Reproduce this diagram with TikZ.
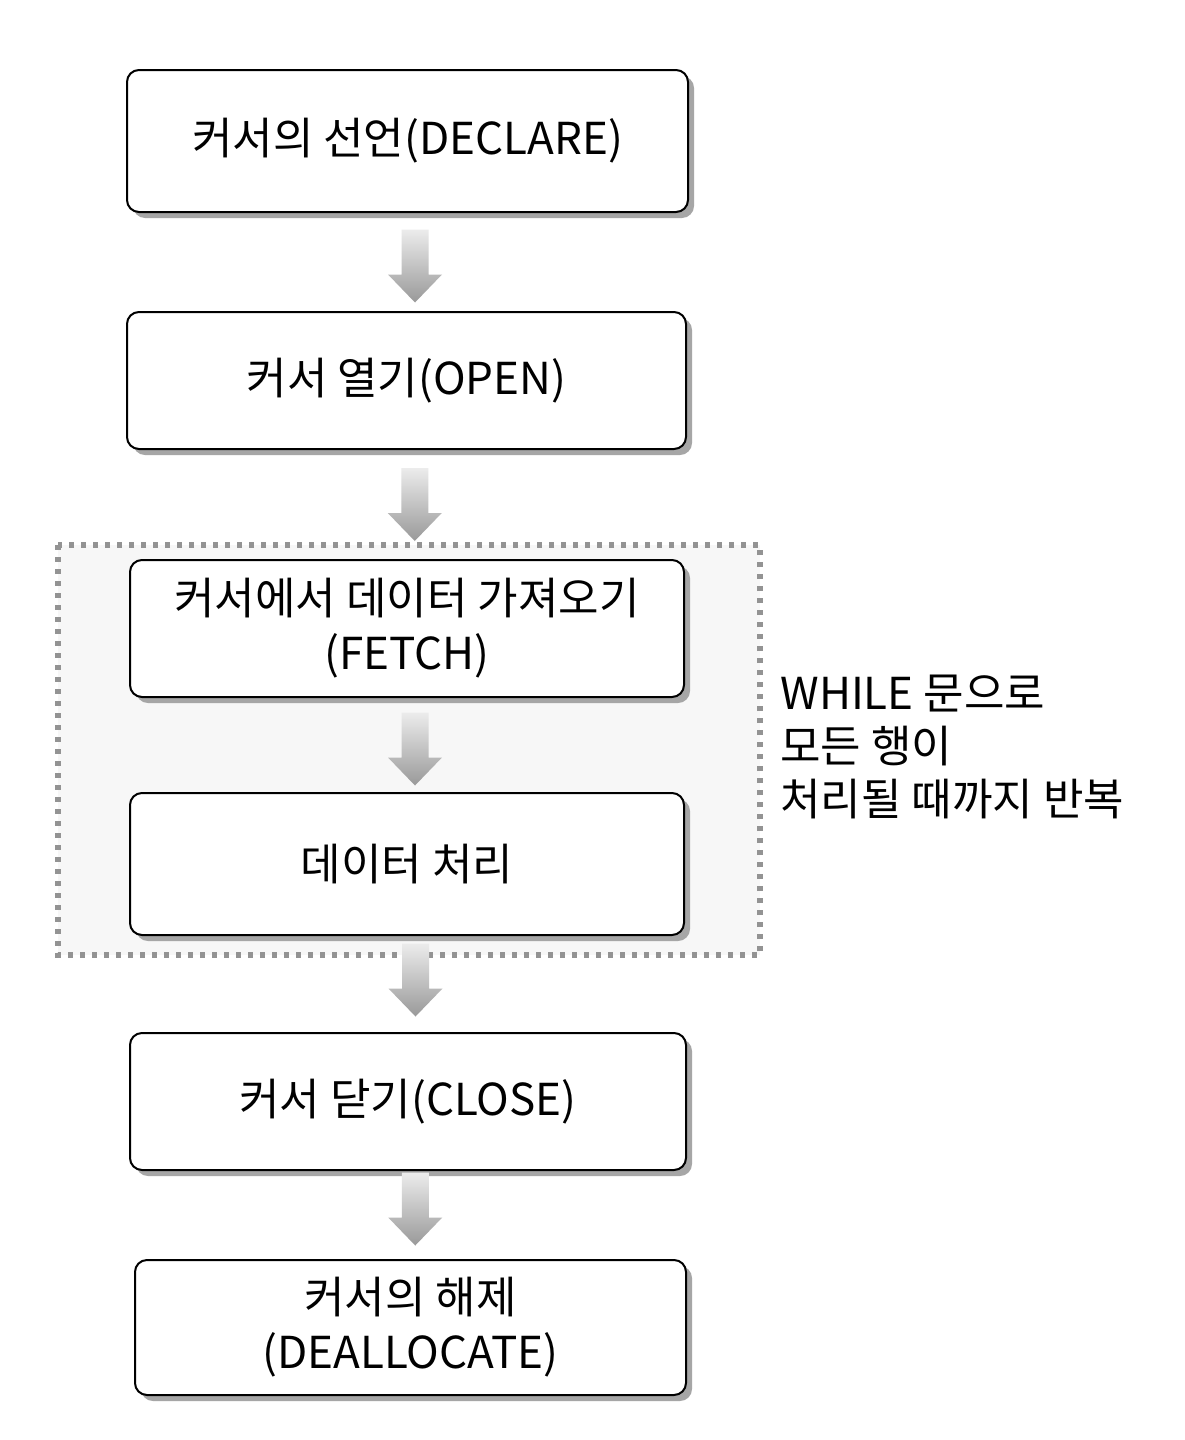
\documentclass[tikz,border=0pt]{standalone}
\usepackage{fontspec}
\setmainfont{Noto Sans CJK KR}
\usetikzlibrary{shadows,calc}
\tikzset{
  stepbox/.style={draw=black, line width=1pt, rounded corners=6pt, fill=white,
    align=center, font=\fontsize{22pt}{27.5pt}\selectfont, inner sep=0pt,
    drop shadow={shadow xshift=3pt, shadow yshift=-3pt, fill=gray!70, opacity=1}},
  loopregion/.style={draw=gray!85, line width=3pt, dash pattern=on 2.5pt off 3.5pt, fill=gray!6},
  blockarr/.pic={
    \shade[top color=gray!15, bottom color=gray!80]
      (-6.75pt,18.25pt) -- (6.75pt,18.25pt) -- (6.75pt,-4.25pt) -- (13.5pt,-4.25pt)
      -- (0pt,-18.25pt) -- (-13.5pt,-4.25pt) -- (-6.75pt,-4.25pt) -- cycle;
  },
  note/.style={align=left, font=\fontsize{22pt}{26.5pt}\selectfont, inner sep=0pt}
}
\begin{document}
\begin{tikzpicture}[x=0.5pt, y=-0.5pt]
\useasboundingbox (0,0) rectangle (1184,1440);
\fill[white] (0,0) rectangle (1184,1440);

\path[loopregion] (58,545) rectangle (760,955);
\node[coordinate] (loop) at (760,545) {};

\node[stepbox, minimum width=280.5pt, minimum height=71pt] (b1) at (407.5,141) {커서의 선언(DECLARE)};
\node[stepbox, minimum width=279.5pt, minimum height=68.5pt] (b2) at (406.5,380.5) {커서 열기(OPEN)};
\node[stepbox, minimum width=277pt, minimum height=68.5pt] (b3) at (407,628.5) {커서에서 데이터 가져오기\\(FETCH)};
\node[stepbox, minimum width=277pt, minimum height=71pt] (b4) at (407,864) {데이터 처리};
\node[stepbox, minimum width=278pt, minimum height=68.5pt] (b5) at (408,1101.5) {커서 닫기(CLOSE)};
\node[stepbox, minimum width=275.5pt, minimum height=67.5pt] (b6) at (410.5,1327.5) {커서의 해제\\(DEALLOCATE)};

\path ($(b1.south)!0.5!(b2.north)+(4pt,-2pt)$) pic {blockarr};
\path ($(b2.south)!0.5!(b3.north)+(4pt,0pt)$) pic {blockarr};
\path ($(b3.south)!0.5!(b4.north)+(4pt,-2pt)$) pic {blockarr};
\path ($(b4.south)!0.5!(b5.north)+(4pt,2pt)$) pic {blockarr};
\path ($(b5.south)!0.5!(b6.north)+(3pt,3pt)$) pic {blockarr};

\node[note, anchor=west] (loopnote) at (780,747) {WHILE 문으로\\모든 행이\\처리될 때까지 반복};
\end{tikzpicture}
\end{document}
